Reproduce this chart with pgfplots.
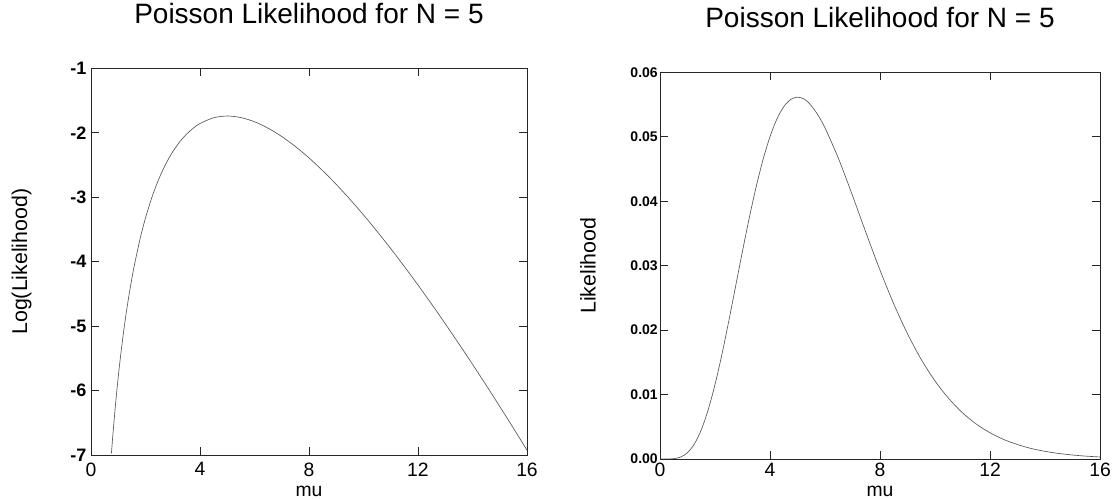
\documentclass[border=0pt]{standalone}
\usepackage{pgfplots}
\pgfplotsset{compat=1.18}
\usepackage{fontspec}
\setmainfont{Liberation Sans}

\pgfplotstableread{
mu loglik
0.75 -6.976
0.8 -6.703
0.9 -6.214
1.0 -5.788
1.1 -5.411
1.2 -5.076
1.3 -4.775
1.4 -4.505
1.5 -4.260
1.6 -4.038
1.8 -3.649
2.0 -3.322
2.25 -2.983
2.5 -2.706
2.75 -2.479
3.0 -2.294
3.25 -2.144
3.5 -2.024
3.75 -1.929
4.0 -1.856
4.5 -1.767
5.0 -1.740
5.5 -1.764
6.0 -1.829
6.5 -1.929
7.0 -2.058
7.5 -2.213
8.0 -2.390
8.5 -2.587
9.0 -2.801
9.5 -3.031
10.0 -3.275
10.5 -3.531
11.0 -3.798
11.5 -4.076
12.0 -4.363
12.5 -4.659
13.0 -4.963
13.5 -5.274
14.0 -5.592
14.5 -5.916
15.0 -6.247
15.5 -6.583
16.0 -6.925
}\logtable

\pgfplotstableread{
mu lik
0.0 0.0
0.25 0.000002
0.5 0.000051
0.75 0.000299
1.0 0.00098
1.25 0.00233
1.5 0.00452
1.75 0.00761
2.0 0.01155
2.25 0.01620
2.5 0.02138
2.75 0.02682
3.0 0.03226
3.25 0.03749
3.5 0.04230
3.75 0.04651
4.0 0.05002
4.25 0.05275
4.5 0.05467
4.75 0.05578
5.0 0.05615
5.25 0.05583
5.5 0.05484
5.75 0.05332
6.0 0.05139
6.5 0.04652
7.0 0.04087
7.5 0.03499
8.0 0.02931
8.5 0.02407
9.0 0.01943
9.5 0.01544
10.0 0.01211
10.5 0.00938
11.0 0.00717
11.5 0.00542
12.0 0.00408
12.5 0.00302
13.0 0.00224
13.5 0.00163
14.0 0.00119
14.5 0.00086
15.0 0.00062
15.5 0.00044
16.0 0.000315
}\liktable

\pgfplotsset{
  common/.style={
    scale only axis,
    height=290pt,
    xmin=0, xmax=16,
    xtick={0,4,8,12,16},
    xticklabels={0,4,8,12,16},
    scaled y ticks=false,
    tick pos=both,
    tick align=inside,
    major tick length=6pt,
    axis line style={line width=0.5pt, black!85},
    tick style={line width=0.45pt, black!85},
    xticklabel style={font=\fontsize{14.5}{14.5}\selectfont, inner sep=0pt, yshift=-5.5pt},
    yticklabel style={font=\bfseries\fontsize{13.5}{13.5}\selectfont},
    title style={font=\fontsize{21}{24}\selectfont, at={(0.5,1)}, anchor=base, yshift=28pt, inner sep=0pt},
    xlabel style={font=\fontsize{14.5}{14.5}\selectfont, at={(axis description cs:0.5,0)}, anchor=base, yshift=-31pt, inner sep=0pt},
    ylabel style={font=\fontsize{16}{16}\selectfont, inner sep=0pt},
    title={Poisson Likelihood for N = 5},
    xlabel={mu},
  }
}

\begin{document}
\begin{tikzpicture}
\path[use as bounding box] (-68.25pt,-33pt) rectangle (767.25pt,341.25pt);
\begin{axis}[common,
  at={(0pt,0pt)}, anchor=south west,
  width=327pt,
  ymin=-7, ymax=-1,
  ytick={-7,-6,-5,-4,-3,-2,-1},
  yticklabels={-7,-6,-5,-4,-3,-2,-1},
  ylabel={Log(Likelihood)},
  ylabel style={at={(axis description cs:0,0.5)}, anchor=center, yshift=52pt},
]
\addplot[black!65, line width=0.5pt, smooth] table[x=mu, y=loglik] {\logtable};
\end{axis}
\begin{axis}[common,
  at={(426.75pt,-3pt)}, anchor=south west,
  width=330pt,
  ymin=0, ymax=0.06,
  ytick={0,0.01,0.02,0.03,0.04,0.05,0.06},
  yticklabels={0.00,0.01,0.02,0.03,0.04,0.05,0.06},
  yticklabel style={font=\bfseries\fontsize{10.5}{10.5}\selectfont, inner sep=1.5pt},
  xticklabel style={yshift=2.5pt},
  xlabel style={yshift=3pt},
  ylabel={Likelihood},
  ylabel style={at={(axis description cs:0,0.5)}, anchor=center, yshift=54pt},
]
\addplot[black!65, line width=0.5pt, smooth] table[x=mu, y=lik] {\liktable};
\end{axis}
\end{tikzpicture}
\end{document}
